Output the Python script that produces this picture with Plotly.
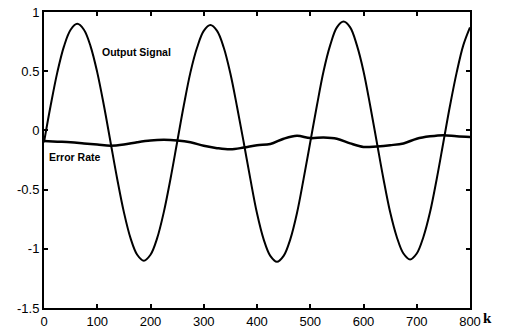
import plotly.graph_objects as go

# Output signal samples (k, value)
k_sig = [i * 12.5 for i in range(65)]
output_signal = [
    -0.10, 0.21, 0.49, 0.71, 0.85, 0.90, 0.85, 0.71, 0.49, 0.21,
    -0.10, -0.41, -0.69, -0.91, -1.05, -1.10, -1.05, -0.91, -0.69, -0.41,
    -0.10, 0.21, 0.49, 0.70, 0.84, 0.89, 0.84, 0.70, 0.48, 0.20,
    -0.10, -0.41, -0.70, -0.92, -1.06, -1.11, -1.06, -0.92, -0.70, -0.41,
    -0.10, 0.21, 0.50, 0.72, 0.87, 0.92, 0.87, 0.72, 0.50, 0.21,
    -0.10, -0.41, -0.69, -0.90, -1.04, -1.09, -1.04, -0.90, -0.69, -0.41,
    -0.10, 0.21, 0.49, 0.72, 0.87,
]

# Error rate samples
k_err = [i * 25 for i in range(33)]
error_rate = [
    -0.09, -0.095, -0.10, -0.11, -0.12, -0.13, -0.12, -0.10, -0.085, -0.08,
    -0.085, -0.10, -0.13, -0.15, -0.16, -0.145, -0.125, -0.115, -0.07, -0.045,
    -0.065, -0.06, -0.07, -0.11, -0.14, -0.135, -0.125, -0.11, -0.07, -0.05,
    -0.04, -0.05, -0.055,
]

x_ticks = [0, 100, 200, 300, 400, 500, 600, 700, 800]
y_ticks = [-1.5, -1, -0.5, 0, 0.5, 1]
y_tick_text = ["-1.5", "-1", "-0.5", "0", "0.5", "1"]

fig = go.Figure()
fig.add_trace(go.Scatter(x=k_sig, y=output_signal, mode="lines",
                         line=dict(color="black", width=2, shape="spline"),
                         showlegend=False))
fig.add_trace(go.Scatter(x=k_err, y=error_rate, mode="lines",
                         line=dict(color="black", width=2.5, shape="spline"),
                         showlegend=False))

axis_common = dict(showgrid=False, zeroline=False, showline=True, linecolor="black",
                   linewidth=2, mirror="allticks", ticks="inside", ticklen=4,
                   tickwidth=1.5, tickcolor="black", automargin=False,
                   tickfont=dict(family="Liberation Sans, Arial", size=13, color="black"))

fig.update_xaxes(range=[0, 800], tickvals=x_ticks, **axis_common)
fig.update_yaxes(range=[-1.5, 1], tickvals=y_ticks, ticktext=y_tick_text, **axis_common)

fig.add_annotation(x=105, y=0.66, text="<b>Output Signal</b>",
                   showarrow=False, xanchor="left", yanchor="middle",
                   font=dict(family="Liberation Sans, Arial", size=10.5, color="black"))
fig.add_annotation(x=6, y=-0.225, text="<b>Error Rate</b>",
                   showarrow=False, xanchor="left", yanchor="middle",
                   font=dict(family="Liberation Serif, Arial", size=10.5, color="black")
                   if False else dict(family="Liberation Sans, Arial", size=10.5, color="black"))
fig.add_annotation(x=1.04, y=-0.035, xref="paper", yref="paper", text="<b>k</b>",
                   showarrow=False, xanchor="center", yanchor="middle",
                   font=dict(family="Liberation Serif, Times New Roman", size=15, color="black"))

fig.update_layout(width=510, height=328, margin=dict(l=44, r=40, t=12, b=20),
                  paper_bgcolor="white", plot_bgcolor="white", template="none")

fig.write_html("out.html")
